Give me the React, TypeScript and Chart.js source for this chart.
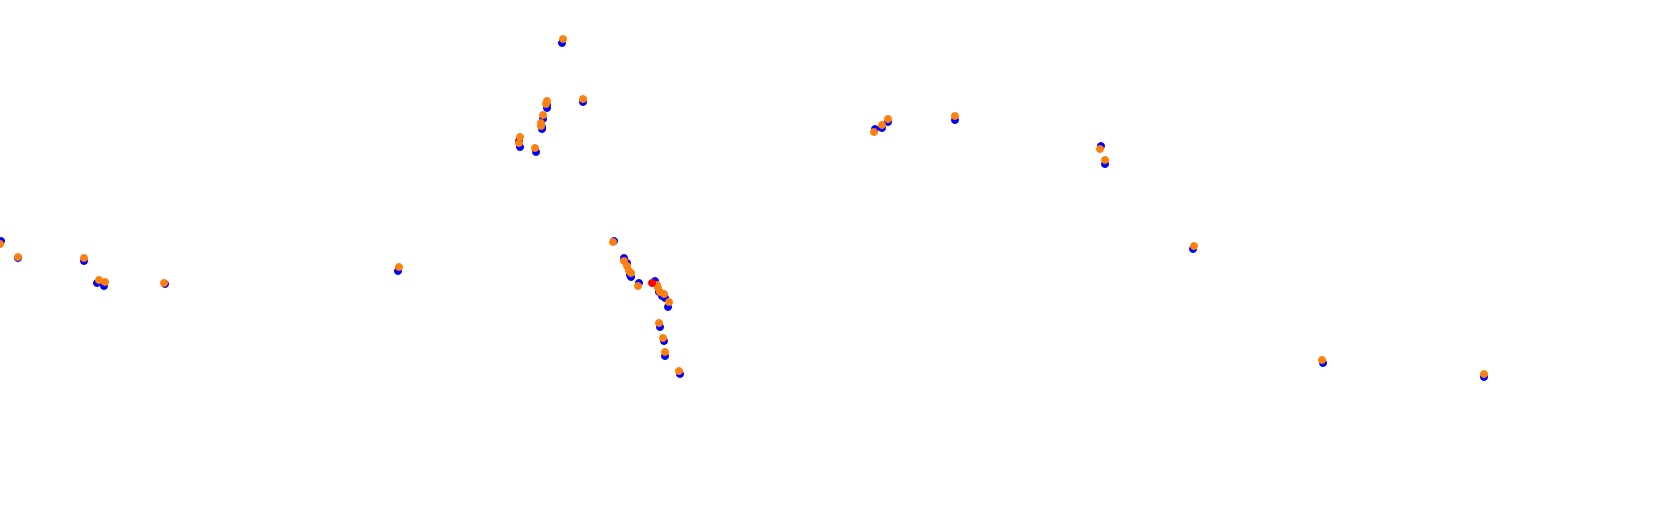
import React, { useEffect, useRef } from "react";
import { Chart, registerables } from "chart.js";

Chart.register(...registerables);

const blueX = [0.1, 1.8, 8.4, 9.7, 10.4, 16.5, 39.8, 51.9, 52.0, 53.6, 54.7, 54.7, 54.3, 54.2, 54.2, 56.2, 58.3, 61.4, 62.4, 62.7, 63.0, 63.1, 63.9, 65.5, 65.9, 66.2, 66.5, 66.8, 66.0, 66.4, 66.5, 68.0, 87.5, 88.2, 88.8, 95.5, 110.1, 110.5, 119.3, 132.3, 148.4];
const blueY = [26.7, 25.0, 24.7, 22.5, 22.2, 22.4, 23.7, 36.7, 36.1, 35.6, 40.3, 40.0, 38.9, 38.1, 37.9, 46.5, 40.6, 26.7, 25.0, 24.5, 23.3, 23.1, 22.5, 22.7, 21.6, 21.2, 21.0, 20.1, 18.1, 16.7, 15.2, 13.4, 37.9, 38.0, 38.6, 38.8, 36.2, 34.4, 25.9, 14.5, 13.1];

const orangeX = [0.0, 1.8, 8.4, 9.9, 10.5, 16.4, 39.9, 52.0, 51.9, 53.5, 54.7, 54.6, 54.3, 54.1, 54.1, 56.3, 58.3, 61.3, 62.4, 62.7, 62.9, 63.1, 63.8, 65.7, 65.8, 66.0, 66.4, 66.9, 65.9, 66.3, 66.5, 67.9, 87.4, 88.2, 88.8, 95.5, 110.0, 110.5, 119.4, 132.2, 148.4];
const orangeY = [26.4, 25.1, 25.0, 22.8, 22.6, 22.5, 24.1, 37.1, 36.5, 36.0, 40.7, 40.4, 39.3, 38.5, 38.2, 46.9, 40.9, 26.6, 24.7, 24.2, 23.7, 23.5, 22.2, 22.3, 22.0, 21.6, 21.4, 20.6, 18.5, 17.0, 15.6, 13.7, 37.6, 38.3, 38.9, 39.2, 35.9, 34.8, 26.2, 14.8, 13.4];

const redX = [65.2];
const redY = [22.5];

const toPoints = (xs: number[], ys: number[]) => xs.map((x, i) => ({ x, y: ys[i] }));

export default function App() {
  const ref = useRef<HTMLCanvasElement | null>(null);
  useEffect(() => {
    document.body.style.margin = "0";
    if (!ref.current) return;
    const chart = new Chart(ref.current, {
      type: "scatter",
      data: {
        datasets: [
          {
            label: "red",
            data: toPoints(redX, redY),
            backgroundColor: "#ff0000",
            borderColor: "#ff0000",
            pointRadius: 3.5,
            borderWidth: 1,
          },
          {
            label: "orange",
            data: toPoints(orangeX, orangeY),
            backgroundColor: "#ff7f0e",
            borderColor: "#ff7f0e",
            pointRadius: 3.5,
            borderWidth: 1,
          },
          {
            label: "blue",
            data: toPoints(blueX, blueY),
            backgroundColor: "#0000ff",
            borderColor: "#0000ff",
            pointRadius: 3.5,
            borderWidth: 1,
          },
        ],
      },
      options: {
        animation: false,
        responsive: false,
        layout: { padding: 0, autoPadding: false },
        plugins: { legend: { display: false }, tooltip: { enabled: false } },
        scales: {
          x: { type: "linear", min: 0, max: 168, display: false },
          y: { type: "linear", min: 0, max: 50.8, display: false },
        },
      },
    });
    return () => chart.destroy();
  }, []);
  return (
    <div style={{ width: 1680, height: 508 }}>
      <canvas ref={ref} width={1680} height={508} style={{ display: "block" }} />
    </div>
  );
}
